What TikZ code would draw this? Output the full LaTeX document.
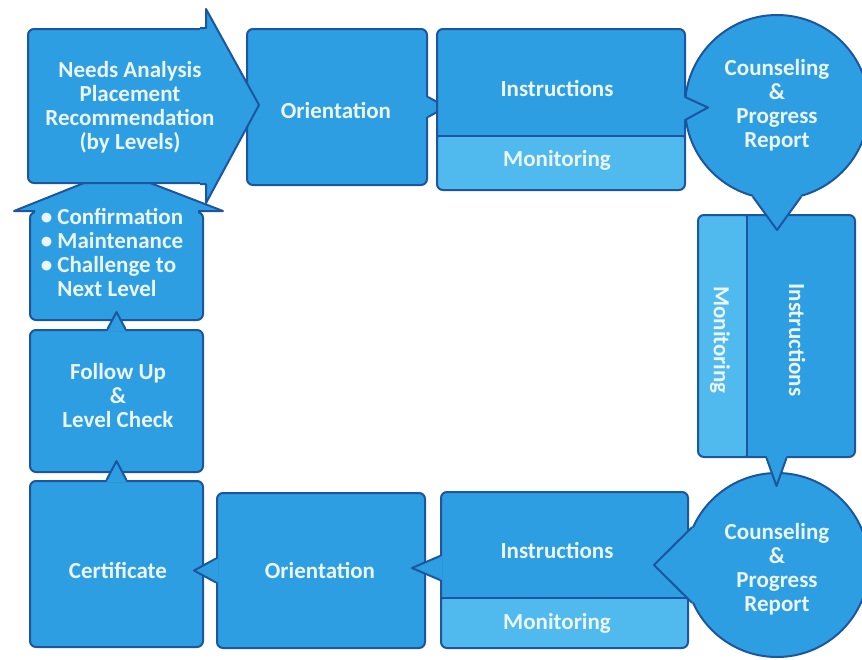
\documentclass[tikz,border=0pt]{standalone}
\usepackage{fontspec}
\setmainfont{Carlito}
\usetikzlibrary{calc}

\definecolor{stagefill}{RGB}{46,158,226}
\definecolor{monfill}{RGB}{80,186,238}
\definecolor{stageline}{RGB}{28,86,160}
\definecolor{stagetext}{RGB}{234,245,252}

\begin{document}
\begin{tikzpicture}[x=0.5pt, y=-0.5pt,
    edge/.style ={draw=stageline, line width=1pt, line join=round},
    stage/.style ={rectangle, rounded corners=3pt, fill=stagefill, edge, inner sep=0pt},
    bubble/.style ={circle, fill=stagefill, edge, inner sep=0pt, minimum size=92pt},
    label/.style ={text=stagetext, font=\fontsize{11.5}{12}\selectfont\bfseries, align=center, inner sep=0pt},
    hsplit/.style ={path picture={
        \fill[monfill] (path picture bounding box.south west) rectangle ([yshift=#1]path picture bounding box.south east);
        \draw[stageline, line width=1pt] ([yshift=#1]path picture bounding box.south west) -- ([yshift=#1]path picture bounding box.south east);}},
    vsplit/.style ={path picture={
        \fill[monfill] (path picture bounding box.south west) rectangle ([xshift=#1]path picture bounding box.north west);
        \draw[stageline, line width=1pt] ([xshift=#1]path picture bounding box.south west) -- ([xshift=#1]path picture bounding box.north west);}}]
   \useasboundingbox (0,0) rectangle (862,659);

   % left column
   \node[stage, minimum width=86.5pt, minimum height=54pt] (bul) at (116.5,266) {};
   \fill[stagefill] ($(bul.north west)+(6,0)$) -- ($(bul.north west)+(-15,0)$) -- (116.5,170)
        -- ($(bul.north east)+(19,0)$) -- ($(bul.north east)+(-6,0)$) -- ($(bul.north east)+(-6,4)$) -- ($(bul.north west)+(6,4)$) -- cycle;
   \draw[edge] ($(bul.north west)+(6,0)$) -- ($(bul.north west)+(-15,0)$) -- (116.5,170)
        -- ($(bul.north east)+(19,0)$) -- ($(bul.north east)+(-6,0)$);
   \node[label, align=left] (bullist) at (112,252) {\textbullet~Confirmation\\\textbullet~Maintenance\\\textbullet~Challenge to\\\phantom{\textbullet~}Next Level};

   \node[stage, minimum width=86.5pt, minimum height=71pt] (fol) at (116.5,401) {};
   \node[label] (foltxt) at (118,396) {Follow Up\\\&\\Level Check};
   \fill[stagefill] ($(fol.north)+(-9,2)$) -- ($(fol.north)+(0,-17)$) -- ($(fol.north)+(9,2)$) -- cycle;
   \draw[edge] ($(fol.north)+(-9,0)$) -- ($(fol.north)+(0,-17)$) -- ($(fol.north)+(9,0)$);

   \node[stage, minimum width=86.5pt, minimum height=83pt] (cert) at (116.5,564) {};
   \node[label] (certtxt) at (118,570) {Certificate};
   \fill[stagefill] ($(cert.north)+(-10,2)$) -- ($(cert.north)+(0,-19)$) -- ($(cert.north)+(10,2)$) -- cycle;
   \draw[edge] ($(cert.north)+(-10,0)$) -- ($(cert.north)+(0,-19)$) -- ($(cert.north)+(10,0)$);

   % bottom row
   \node[stage, minimum width=104pt, minimum height=77.5pt] (ori2) at (321,570.5) {};
   \node[label] (ori2txt) at (320,570) {Orientation};
   \fill[stagefill] ($(ori2.west)+(2,-12)$) -- ($(ori2.west)+(-22,0)$) -- ($(ori2.west)+(2,12)$) -- cycle;
   \draw[edge] ($(ori2.west)+(0,-12)$) -- ($(ori2.west)+(-22,0)$) -- ($(ori2.west)+(0,12)$);

   \node[stage, hsplit=25pt, minimum width=123.5pt, minimum height=78pt] (ins2) at (564.5,570) {};
   \node[label] (ins2txt) at (557,550) {Instructions};
   \node[label] (mon2txt) at (557,623) {Monitoring};
   \fill[stagefill] ($(ins2.west)+(2,-14)$) -- ($(ins2.west)+(-28,-2)$) -- ($(ins2.west)+(2,10)$) -- cycle;
   \draw[edge] ($(ins2.west)+(0,-14)$) -- ($(ins2.west)+(-28,-2)$) -- ($(ins2.west)+(0,10)$);

   \node[bubble] (cir2) at (777,565) {};
   \fill[stagefill] (cir2.center) -- (cir2.156) -- ($(cir2.west)+(-30,0)$) -- (cir2.204) -- cycle;
   \draw[edge] (cir2.156) -- ($(cir2.west)+(-30,0)$) -- (cir2.204);
   \node[label] (cir2txt) at (777,569) {Counseling\\\&\\Progress\\Report};

   % right column
   \node[stage, vsplit=24.5pt, minimum width=78.5pt, minimum height=121pt] (vert) at (776.5,336) {};
   \node[label, rotate=-90] (mon3txt) at (720,340) {Monitoring};
   \node[label, rotate=-90] (ins3txt) at (797,340) {Instructions};
   \fill[stagefill] ($(vert.south)+(-10,-2)$) -- ($(vert.south)+(0,28)$) -- ($(vert.south)+(10,-2)$) -- cycle;
   \draw[edge] ($(vert.south)+(-10,0)$) -- ($(vert.south)+(0,28)$) -- ($(vert.south)+(10,0)$);

   % top row
   \node[stage, minimum width=90pt, minimum height=78pt] (ori1) at (337,107) {};
   \node[label] (ori1txt) at (336,110) {Orientation};

   \node[stage, minimum width=88.5pt, minimum height=77pt] (need) at (116.5,106) {};
   \fill[stagefill] ($(need.north east)+(-6,0)$) -- (need.north east) -- ++(0,-19) -- ++(53,96)
        -- ($(need.south east)+(0,19)$) -- (need.south east) -- ($(need.south east)+(-6,0)$) -- cycle;
   \draw[edge] ($(need.north east)+(-6,0)$) -- (need.north east) -- ++(0,-19) -- ++(53,96)
        -- ($(need.south east)+(0,19)$) -- (need.south east) -- ($(need.south east)+(-6,0)$);
   \node[label] (needtxt) at (130,107) {Needs Analysis\\Placement\\Recommendation\\(by Levels)};

   \fill[stagefill] ($(ori1.east)+(-2,-10)$) -- ($(ori1.east)+(18,0)$) -- ($(ori1.east)+(-2,10)$) -- cycle;
   \draw[edge] ($(ori1.east)+(0,-10)$) -- ($(ori1.east)+(18,0)$) -- ($(ori1.east)+(0,10)$);

   \node[stage, hsplit=27pt, minimum width=124pt, minimum height=80.5pt] (ins1) at (561,109.5) {};
   \node[label] (ins1txt) at (557,88) {Instructions};
   \node[label] (mon1txt) at (557,160) {Monitoring};

   \node[bubble] (cir1) at (777,107) {};
   \fill[stagefill] ($(ins1.east)+(-2,-12)$) -- ($(ins1.east)+(22,-2)$) -- ($(ins1.east)+(-2,10)$) -- cycle;
   \draw[edge] ($(ins1.east)+(0,-12)$) -- ($(ins1.east)+(22,-2)$) -- ($(ins1.east)+(0,10)$);
   \fill[stagefill] (cir1.center) -- (cir1.-105) -- ($(cir1.south)+(0,30)$) -- (cir1.-75) -- cycle;
   \draw[edge] (cir1.-105) -- ($(cir1.south)+(0,30)$) -- (cir1.-75);
   \node[label] (cir1txt) at (777,105) {Counseling\\\&\\Progress\\Report};

 \end{tikzpicture}
\end{document}
